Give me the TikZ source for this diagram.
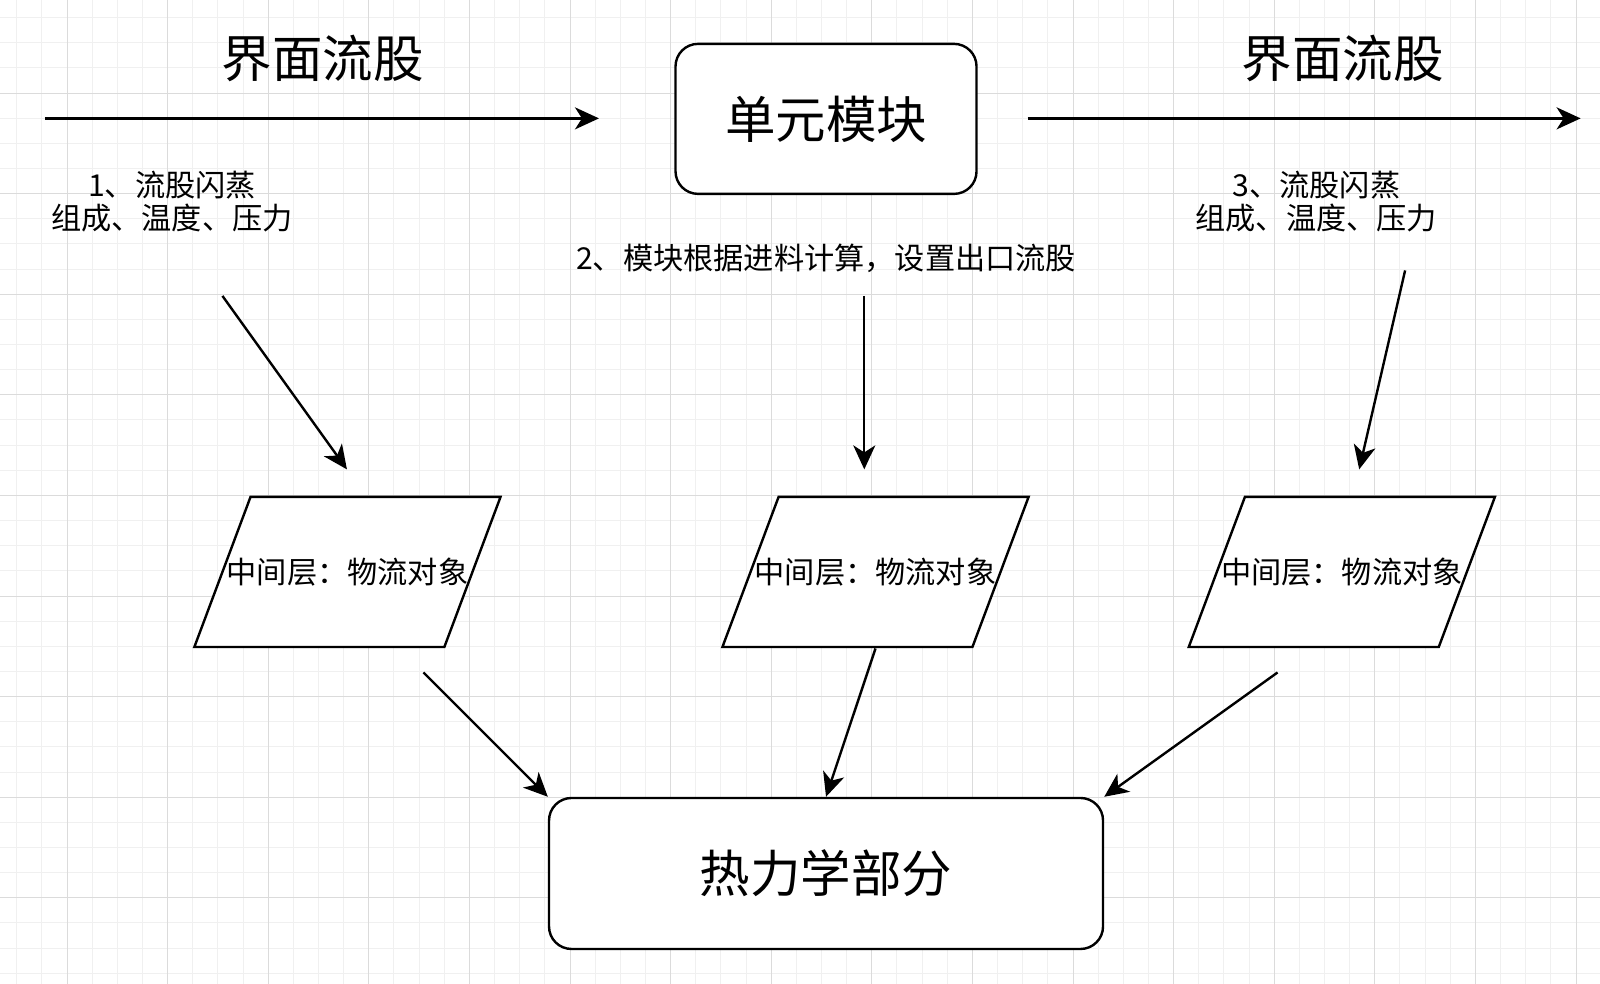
\documentclass[tikz,border=0pt]{standalone}
\usepackage{fontspec}
\setmainfont{Noto Sans CJK SC}
\usetikzlibrary{arrows.meta}

\tikzset{
  minorgrid/.style={draw=black!6, line width=1pt},
  majorgrid/.style={draw=black!14, line width=1pt},
  block/.style={draw, line width=2.4pt, fill=white, rounded corners=22.5pt,
    font=\fontsize{50.5}{60}\selectfont},
  headtext/.style={font=\fontsize{50.5}{60}\selectfont},
  notetext/.style={font=\fontsize{30.2}{33.7}\selectfont, align=center},
  para/.style={draw, line width=2.4pt, fill=white},
  arr/.style={-{Stealth[length=24pt,width=22pt,inset=7pt]}, line width=2.4pt},
}

\begin{document}
\begin{tikzpicture}[x=1.0204pt,y=-1.0204pt]
  % Canvas and grid
  \fill[white] (0,0) rectangle (1568,964.3);
  \useasboundingbox (0,0) rectangle (1568,964.3);
  \begin{scope}[x=1pt,y=-1pt]
    \foreach \i in {0,...,63}
      \draw[minorgrid] ({16.7+25.15*\i},0) -- ({16.7+25.15*\i},984);
    \foreach \i in {1,...,39}
      \draw[minorgrid] (0,{-7.6+25.15*\i}) -- (1600,{-7.6+25.15*\i});
    \foreach \i in {0,...,15}
      \draw[majorgrid] ({67+100.6*\i},0) -- ({67+100.6*\i},984);
    \foreach \i in {0,...,8}
      \draw[majorgrid] (0,{93+100.6*\i}) -- (1600,{93+100.6*\i});
  \end{scope}

  % Unit block with inlet and outlet streams
  \node[block, minimum width=301pt, minimum height=150pt] (unit) at (809.5,116.5) {单元模块};
  \node[headtext] (titleL) at (316.5,57) {界面流股};
  \node[headtext] (titleR) at (1316,57) {界面流股};
  \coordinate (inL) at (44,116);
  \coordinate (inR) at (587,116);
  \coordinate (outL) at (1007,116);
  \coordinate (outR) at (1549,116);
  \draw[arr] (inL) -- (inR);
  \draw[arr] (outL) -- (outR);

  % Steps
  \node[notetext] (step1) at (168.5,197.5) {1、流股闪蒸\\组成、温度、压力};
  \node[notetext] (step2) at (809.5,253) {2、模块根据进料计算，设置出口流股};
  \node[notetext] (step3) at (1290,197.5) {3、流股闪蒸\\组成、温度、压力};

  % Middle layer
  \foreach \n/\x in {p1/340.5, p2/858, p3/1315}{
    \draw[para] (\x-95,487) -- (\x+150,487) -- (\x+95,634) -- (\x-150,634) -- cycle;
    \node[notetext] (\n) at (\x,560.5) {中间层：物流对象};
  }

  % Thermodynamics
  \node[block, minimum width=554pt, minimum height=151pt] (thermo) at (809.5,856) {热力学部分};

  % Connectors
  \coordinate (a1) at (218,290);
  \coordinate (a1e) at (340,460);
  \coordinate (a2) at (847,290);
  \coordinate (a2e) at (847,460);
  \coordinate (a3) at (1377,265);
  \coordinate (a3e) at (1332,460);
  \coordinate (b1) at (415,659);
  \coordinate (b3) at (1252,659);
  \draw[arr] (a1) -- (a1e);
  \draw[arr] (a2) -- (a2e);
  \draw[arr] (a3) -- (a3e);
  \draw[arr] (b1) -- (thermo.north west);
  \draw[arr] ([yshift=-76.5pt]p2.center) -- (thermo.north);
  \draw[arr] (b3) -- (thermo.north east);
\end{tikzpicture}
\end{document}
